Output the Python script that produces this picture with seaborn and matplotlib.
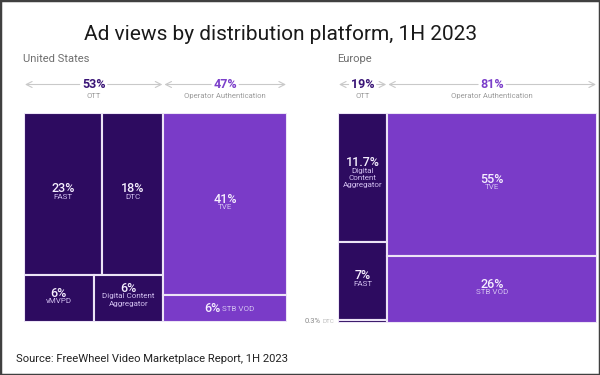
import matplotlib.pyplot as plt
import seaborn as sns

# ---- data ----
title = "Ad views by distribution platform, 1H 2023"
source = "Source: FreeWheel Video Marketplace Report, 1H 2023"

group_names = ["OTT", "Operator Authentication"]

us_totals = [53, 47]
us_ott_rows = [["FAST", "DTC"], ["vMVPD", "Digital Content\nAggregator"]]
us_ott_vals = [[23, 18], [6, 6]]
us_auth_rows = [["TVE"], ["STB VOD"]]
us_auth_vals = [[41], [6]]

eu_totals = [19, 81]
eu_ott_rows = [["Digital\nContent\nAggregator"], ["FAST"], ["DTC"]]
eu_ott_vals = [[11.7], [7], [0.3]]
eu_auth_rows = [["TVE"], ["STB VOD"]]
eu_auth_vals = [[55], [26]]

tile_colors = ["#2d0b60", "#7a3bc8"]
head_colors = ["#3a1577", "#7b3fca"]
gap_color = "#ece4f6"

sns.set_theme(style="white")
plt.rcParams['font.family'] = ['Roboto', 'DejaVu Sans']

W, H = 600, 375
fig = plt.figure(figsize=(W / 100, H / 100), dpi=100)
PT = 0.72  # points per pixel at 100 dpi


def px_axes(l, t, r, b):
    ax = fig.add_axes([l / W, 1 - b / H, (r - l) / W, (b - t) / H])
    ax.set_xlim(0, 100)
    ax.set_ylim(0, 100)
    ax.axis("off")
    return ax


def tile_label(ax, cx, cy, h_px, name, value):
    pct = f"{value:g}%"
    if h_px < 8:
        # too thin, label goes outside on the left
        ax.annotate(name, (0, cy), xytext=(-4 * PT, 0), textcoords="offset points",
                    ha="right", va="center", fontsize=4.5, color="#bdbdbd")
        ax.annotate(pct, (0, cy), xytext=(-17 * PT, 0), textcoords="offset points",
                    ha="right", va="center", fontsize=5.5, color="#8a8a8a")
        return
    if h_px < 30:
        ax.annotate(pct, (cx, cy), xytext=(-5 * PT, 0), textcoords="offset points",
                    ha="right", va="center", fontsize=9, fontweight="medium", color="#f6f0ff")
        ax.annotate(name, (cx, cy), xytext=(-3 * PT, -0.5 * PT), textcoords="offset points",
                    ha="left", va="center", fontsize=5.8, color="#d2c0f0")
        return
    n = name.count("\n") + 1
    top = -(10 + 10 * n) / 2
    ax.annotate(pct, (cx, cy), xytext=(0, -(top + 5) * PT), textcoords="offset points",
                ha="center", va="center", fontsize=9, fontweight="medium", color="#f6f0ff")
    ax.annotate(name, (cx, cy), xytext=(0, -(top + 10) * PT), textcoords="offset points",
                ha="center", va="top", fontsize=5.8, color="#d2c0f0", linespacing=1.25)


def draw_treemap(ax, totals, rows_list, vals_list, top_px, h_px, w_px):
    x0 = 0
    for gi, (tot, rows, vals) in enumerate(zip(totals, rows_list, vals_list)):
        y_top = 100
        for names, vs in zip(rows, vals):
            row_sum = sum(vs)
            h = row_sum / tot * 100
            xx = x0
            for name, v in zip(names, vs):
                w = v / row_sum * tot
                ax.bar(xx, h, width=w, bottom=y_top - h, align="edge",
                       color=tile_colors[gi], edgecolor=gap_color, linewidth=1.5)
                tile_label(ax, xx + w / 2, y_top - h / 2, h / 100 * h_px, name, v)
                xx += w
            y_top -= h

        # header: arrows + share of group
        cx = x0 + tot / 2
        ya = 100 + (top_px - 84.5) * 100 / h_px
        ys = 100 + (top_px - 96) * 100 / h_px
        gap = 14 * 100 / w_px
        arrow = dict(arrowstyle="->,head_length=0.35,head_width=0.18", color="#c9c9c9",
                     lw=0.8, shrinkA=0, shrinkB=0)
        ax.annotate("", xy=(x0 + 0.4, ya), xytext=(cx - gap, ya), arrowprops=arrow,
                    annotation_clip=False)
        ax.annotate("", xy=(x0 + tot - 0.4, ya), xytext=(cx + gap, ya), arrowprops=arrow,
                    annotation_clip=False)
        ax.text(cx, ya, f"{tot}%", ha="center", va="center", fontsize=9,
                fontweight="bold", color=head_colors[gi], clip_on=False)
        ax.text(cx, ys, group_names[gi], ha="center", va="center", fontsize=5.5,
                color="#9a9a9a", clip_on=False)
        x0 += tot


ax_us = px_axes(24, 113, 287, 322)
draw_treemap(ax_us, us_totals, [us_ott_rows, us_auth_rows], [us_ott_vals, us_auth_vals],
             113, 209, 263)

ax_eu = px_axes(338, 113, 597, 323)
draw_treemap(ax_eu, eu_totals, [eu_ott_rows, eu_auth_rows], [eu_ott_vals, eu_auth_vals],
             113, 210, 259)

fig.text(23 / W, 1 - 62 / H, "United States", ha="left", va="baseline",
         fontsize=8, color="#6e6e6e")
fig.text(337 / W, 1 - 62 / H, "Europe", ha="left", va="baseline",
         fontsize=8, color="#6e6e6e")
fig.text(281 / W, 1 - 40 / H, title, ha="center", va="baseline",
         fontsize=15, color="#1a1a1a")
fig.text(16 / W, 1 - 362 / H, source, ha="left", va="baseline",
         fontsize=8.1, color="#222222")

fig.add_artist(plt.Rectangle((0, 0), 1, 1, transform=fig.transFigure, fill=False,
                             edgecolor="#404040", linewidth=2.5, zorder=10))

fig.savefig("out.png", dpi=100)
